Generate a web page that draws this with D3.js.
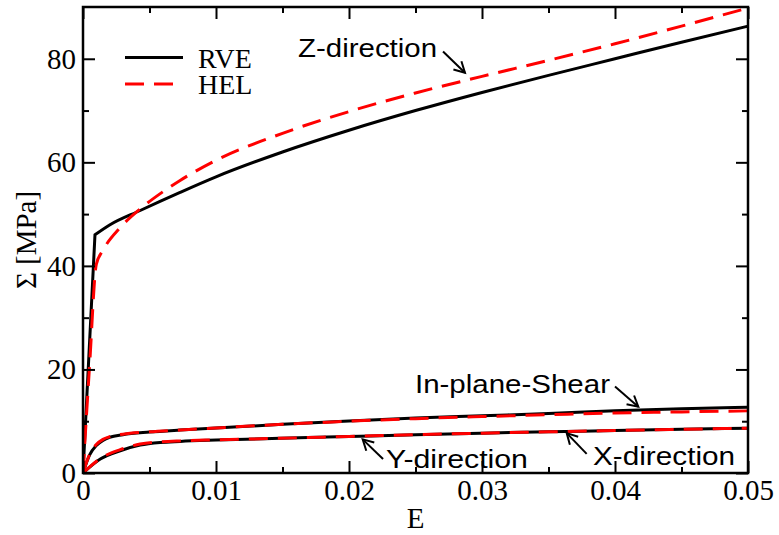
<!DOCTYPE html>
<html>
<head>
<meta charset="utf-8">
<script src="https://cdn.jsdelivr.net/npm/d3@7"></script>
<style>
  html, body { margin: 0; padding: 0; background: #fff; }
  svg { display: block; }
</style>
</head>
<body>
<svg id="chart" width="779" height="535"></svg>
<script>
// ---- data ----
const zRveStrain = [0, 0.0009, 0.002, 0.0043, 0.0073, 0.01, 0.015, 0.02, 0.025, 0.03, 0.035, 0.04, 0.045, 0.05];
const zRveStress = [0, 46.0, 47.9, 50.7, 54.2, 57.2, 62.0, 66.2, 70.0, 73.5, 76.8, 80.0, 83.2, 86.3];

const zHelStrain = [0, 0.0005, 0.001, 0.0015, 0.0028, 0.0043, 0.006, 0.0073, 0.01, 0.015, 0.02, 0.025, 0.03, 0.035, 0.04, 0.045, 0.05];
const zHelStress = [0, 21.0, 40.3, 43.0, 47.4, 51.0, 54.3, 56.5, 60.4, 65.6, 69.8, 73.4, 76.6, 79.7, 82.9, 86.3, 89.8];

const shearStrain = [0, 0.0005, 0.001, 0.0015, 0.002, 0.003, 0.005, 0.0073, 0.01, 0.015, 0.02, 0.025, 0.03, 0.035, 0.04, 0.045, 0.05];
const shearRveStress = [0, 3.5, 5.3, 6.3, 6.9, 7.4, 7.9, 8.3, 8.7, 9.4, 10.05, 10.6, 11.05, 11.5, 12.0, 12.4, 12.7];
const shearHelStress = [0, 3.6, 5.5, 6.5, 7.0, 7.5, 7.95, 8.3, 8.7, 9.4, 10.0, 10.5, 10.9, 11.25, 11.6, 11.8, 12.0];

const xyStrain = [0, 0.0013, 0.0028, 0.0043, 0.0058, 0.0073, 0.01, 0.0148, 0.02, 0.025, 0.03, 0.035, 0.04, 0.045, 0.05];
const xyRveStress = [0, 2.7, 4.3, 5.4, 5.9, 6.1, 6.35, 6.7, 7.05, 7.4, 7.7, 7.95, 8.2, 8.45, 8.65];
const xyHelStress = [0, 2.8, 4.5, 5.6, 6.0, 6.2, 6.4, 6.7, 7.05, 7.4, 7.7, 7.95, 8.2, 8.45, 8.65];

const xTicks = [0, 0.01, 0.02, 0.03, 0.04, 0.05];
const xTickLabels = ["0", "0.01", "0.02", "0.03", "0.04", "0.05"];
const xMinorTicks = [0.005, 0.015, 0.025, 0.035, 0.045];
const yTicks = [0, 20, 40, 60, 80];
const yTickLabels = ["0", "20", "40", "60", "80"];
const yMinorTicks = [10, 30, 50, 70];

const legendLabels = ["RVE", "HEL"];
const annotationLabels = ["Z-direction", "In-plane-Shear", "Y-direction", "X-direction"];
// annotation anchors in data units: text start, arrow tail, arrow head
const annotationText = [[0.01617, 80.3], [0.02496, 15.5], [0.02278, 0.97], [0.03835, 1.5]];
const annotationTail = [[0.02707, 81.4], [0.0400, 16.7], [0.02256, 2.7], [0.03787, 3.7]];
const annotationHead = [[0.02872, 77.3], [0.04175, 12.8], [0.02103, 6.5], [0.03637, 7.7]];

// ---- layout ----
const W = 779, H = 535;
const L = 83, R = 748, T = 7, B = 473;
const serif = "'Liberation Serif','Times New Roman',serif";
const sans = "'Liberation Sans',Arial,Helvetica,sans-serif";

const svg = d3.select("#chart");
const x = d3.scaleLinear().domain([0, 0.05]).range([L, R]);
const y = d3.scaleLinear().domain([0, 90]).range([B, T]);

// clip
svg.append("defs").append("clipPath").attr("id", "clip")
  .append("rect").attr("x", L).attr("y", T).attr("width", R - L).attr("height", B - T);

const line = d3.line().x(d => x(d[0])).y(d => y(d[1])).curve(d3.curveMonotoneX);
const zip = (a, b) => a.map((v, i) => [v, b[i]]);
// straight elastic segment from the origin, then a smooth hardening curve
const kinkPath = s => `M${x(s[0][0])},${y(s[0][1])}` + line(s.slice(1)).replace(/^M/, "L");

const plot = svg.append("g").attr("clip-path", "url(#clip)");
const blackSeries = [zip(zRveStrain, zRveStress), zip(shearStrain, shearRveStress), zip(xyStrain, xyRveStress)];
const redSeries = [zip(zHelStrain, zHelStress), zip(shearStrain, shearHelStress), zip(xyStrain, xyHelStress)];

blackSeries.forEach((s, i) => plot.append("path").attr("d", i === 0 ? kinkPath(s) : line(s))
  .attr("fill", "none").attr("stroke", "#000").attr("stroke-width", 3).attr("stroke-linejoin", "miter"));
redSeries.forEach(s => plot.append("path").attr("d", line(s))
  .attr("fill", "none").attr("stroke", "#ff0000").attr("stroke-width", 3).attr("stroke-dasharray", "19,10"));

// axes
function styleAxis(g) {
  g.select(".domain").remove();
  g.selectAll(".tick line").attr("stroke", "#000").attr("stroke-width", 2);
  g.selectAll(".tick text").attr("fill", "#000").style("font-family", serif).style("font-size", "29px");
}
const major = 12, minor = 6;
svg.append("g").attr("transform", `translate(0,${B})`)
  .call(d3.axisBottom(x).tickValues(xTicks).tickFormat((d, i) => xTickLabels[i]).tickSize(-major).tickPadding(6))
  .call(styleAxis);
svg.append("g").attr("transform", `translate(0,${B})`)
  .call(d3.axisBottom(x).tickValues(xMinorTicks).tickFormat("").tickSize(-minor)).call(styleAxis);
svg.append("g").attr("transform", `translate(0,${T})`)
  .call(d3.axisTop(x).tickValues(xTicks).tickFormat("").tickSize(-major)).call(styleAxis);
svg.append("g").attr("transform", `translate(0,${T})`)
  .call(d3.axisTop(x).tickValues(xMinorTicks).tickFormat("").tickSize(-minor)).call(styleAxis);

svg.append("g").attr("transform", `translate(${L},0)`)
  .call(d3.axisLeft(y).tickValues(yTicks).tickFormat((d, i) => yTickLabels[i]).tickSize(-major).tickPadding(7))
  .call(styleAxis);
svg.append("g").attr("transform", `translate(${L},0)`)
  .call(d3.axisLeft(y).tickValues(yMinorTicks).tickFormat("").tickSize(-minor)).call(styleAxis);
svg.append("g").attr("transform", `translate(${R},0)`)
  .call(d3.axisRight(y).tickValues(yTicks).tickFormat("").tickSize(-major)).call(styleAxis);
svg.append("g").attr("transform", `translate(${R},0)`)
  .call(d3.axisRight(y).tickValues(yMinorTicks).tickFormat("").tickSize(-minor)).call(styleAxis);

// frame
svg.append("rect").attr("x", L).attr("y", T).attr("width", R - L).attr("height", B - T)
  .attr("fill", "none").attr("stroke", "#000").attr("stroke-width", 2.5);

// axis titles
svg.append("text").attr("x", (L + R) / 2).attr("y", 528).attr("text-anchor", "middle")
  .style("font-family", serif).style("font-size", "29px").text("E");
svg.append("text").attr("transform", `translate(36,${(T + B) / 2}) rotate(-90)`).attr("text-anchor", "middle")
  .style("font-family", serif).style("font-size", "29px").text("Σ [MPa]");

// legend
const lg = svg.append("g");
lg.append("line").attr("x1", 125).attr("x2", 183).attr("y1", 57.5).attr("y2", 57.5)
  .attr("stroke", "#000").attr("stroke-width", 3);
lg.append("line").attr("x1", 125).attr("x2", 183).attr("y1", 84).attr("y2", 84)
  .attr("stroke", "#ff0000").attr("stroke-width", 3).attr("stroke-dasharray", "19,10");
lg.selectAll("text").data(legendLabels).join("text")
  .attr("x", 198).attr("y", (d, i) => 68 + i * 26)
  .style("font-family", serif).style("font-size", "28px").text(d => d);

// annotations
const annWidths = [139, 195, 142, 142];
const ann = svg.append("g");
annotationLabels.forEach((lab, i) => {
  ann.append("text").attr("x", x(annotationText[i][0])).attr("y", y(annotationText[i][1]))
    .attr("textLength", annWidths[i]).attr("lengthAdjust", "spacingAndGlyphs")
    .style("font-family", sans).style("font-size", "26px").text(lab);
  const x1 = x(annotationTail[i][0]), y1 = y(annotationTail[i][1]);
  const x2 = x(annotationHead[i][0]), y2 = y(annotationHead[i][1]);
  ann.append("line").attr("x1", x1).attr("y1", y1).attr("x2", x2).attr("y2", y2)
    .attr("stroke", "#000").attr("stroke-width", 2);
  const ang = Math.atan2(y1 - y2, x1 - x2);
  const len = 12, spread = 0.5;
  const p = [
    [x2 + len * Math.cos(ang + spread), y2 + len * Math.sin(ang + spread)],
    [x2, y2],
    [x2 + len * Math.cos(ang - spread), y2 + len * Math.sin(ang - spread)]
  ];
  ann.append("path").attr("d", d3.line()(p)).attr("fill", "none")
    .attr("stroke", "#000").attr("stroke-width", 2).attr("stroke-linejoin", "miter");
});
</script>
</body>
</html>
